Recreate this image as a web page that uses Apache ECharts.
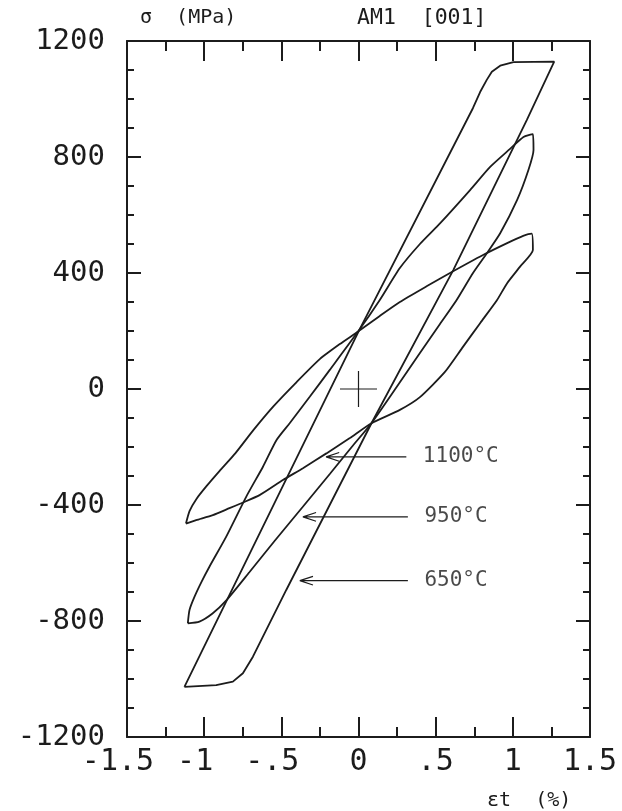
<!DOCTYPE html>
<html>
<head>
<meta charset="utf-8">
<script src="https://cdn.jsdelivr.net/npm/echarts@6/dist/echarts.min.js"></script>
<style>
html,body{margin:0;padding:0;background:#fff;}
#chart{width:622px;height:811px;}
</style>
</head>
<body>
<div id="chart"></div>
<script>
// ---- data (strain %, stress MPa) ----
const xTicks = [-1.5, -1, -0.5, 0, 0.5, 1, 1.5];
const xTickLabels = ['-1.5', '-1', '-.5', '0', '.5', '1', '1.5'];
const yTicks = [-1200, -800, -400, 0, 400, 800, 1200];
const yTickLabels = ['-1200', '-800', '-400', '0', '400', '800', '1200'];

const loop650Strain = [-1.128, 0.000, 0.742, 0.788, 0.831, 0.864, 0.918, 1.004, 1.268, 1.091, 0.614, 0.084, -0.468, -0.684, -0.749, -0.814, -0.922, -1.128];
const loop650Stress = [-1027, 198, 969, 1024, 1066, 1094, 1115, 1127, 1129, 928, 410, -118, -693, -923, -980, -1009, -1021, -1027];

const loop950Strain = [-1.106, -1.095, -1.063, -1.018, -0.966, -0.857, -0.727, -0.619, -0.531, -0.446, -0.316, -0.186, -0.003, 0.138, 0.268, 0.398, 0.528, 0.723, 0.853, 0.982, 1.069, 1.130,
  1.134, 1.101, 1.028, 0.918, 0.833, 0.742, 0.636, 0.528, 0.398, 0.236, 0.084, -0.044, -0.186, -0.362, -0.544, -0.706, -0.855, -0.946, -1.031, -1.106];
const loop950Stress = [-808, -762, -717, -666, -613, -509, -371, -268, -176, -118, -27, 66, 198, 307, 417, 500, 571, 686, 766, 828, 869, 879,
  824, 755, 652, 537, 469, 400, 307, 224, 124, -2, -118, -200, -293, -407, -524, -631, -728, -774, -802, -808];

const loop1100Strain = [-1.118, -1.095, -1.050, -0.985, -0.901, -0.797, -0.680, -0.550, -0.401, -0.251, -0.121, -0.003, 0.138, 0.268, 0.444, 0.593, 0.807, 0.963, 1.067, 1.122,
  1.130, 1.047, 0.963, 0.898, 0.788, 0.671, 0.560, 0.398, 0.268, 0.084, -0.056, -0.208, -0.360, -0.490, -0.641, -0.760, -0.836, -0.944, -1.052, -1.118];
const loop1100Stress = [-464, -421, -379, -335, -283, -221, -141, -59, 24, 103, 155, 198, 252, 300, 355, 400, 462, 503, 528, 536,
  479, 422, 365, 307, 227, 141, 59, -28, -72, -118, -169, -222, -273, -314, -366, -394, -411, -435, -452, -464];

// annotation arrows
const arrowLabels = ['1100°C', '950°C', '650°C'];
const arrowStress = [-234, -441, -661];
const arrowTipStrain = [-0.21, -0.36, -0.38];
const arrowTailStrain = [0.31, 0.32, 0.32];

// origin cross
const crossHalfStrain = 0.12;
const crossHalfStress = 62;

// ---- build ----
const INK = '#1c1c1c';
const MONO = '"DejaVu Sans Mono", "Liberation Mono", monospace';
function pairs(xs, ys) { return xs.map((x, i) => [x, ys[i]]); }
function lineSeries(data, width, smooth) {
  return {
    type: 'line', data: data, showSymbol: false, symbol: 'none', smooth: smooth || false,
    lineStyle: { color: INK, width: width }, silent: true, animation: false, z: 3
  };
}
function lookup(ticks, labels, v) {
  const i = ticks.findIndex(t => Math.abs(t - v) < 1e-9);
  return i >= 0 ? labels[i] : '';
}

const series = [
  lineSeries(pairs(loop650Strain, loop650Stress), 1.8, false),
  lineSeries(pairs(loop950Strain, loop950Stress), 1.8, 0.2),
  lineSeries(pairs(loop1100Strain, loop1100Stress), 1.8, 0.2),
  lineSeries([[-crossHalfStrain, 0], [crossHalfStrain, 0]], 1.2, false),
  lineSeries([[0, -crossHalfStress], [0, crossHalfStress]], 1.2, false)
];
const headLen = 0.085, headHalf = 15;
arrowLabels.forEach((lab, i) => {
  const y = arrowStress[i], tip = arrowTipStrain[i];
  series.push(lineSeries([
    [arrowTailStrain[i], y], [tip, y], [tip + headLen, y + headHalf], [tip, y], [tip + headLen, y - headHalf]
  ], 1.2, false));
});
series.push({
  type: 'scatter', symbolSize: 1, itemStyle: { color: 'rgba(0,0,0,0)' }, silent: true, animation: false,
  data: arrowLabels.map((lab, i) => ({ value: [arrowTailStrain[i], arrowStress[i]], name: lab })),
  label: {
    show: true, position: 'right', distance: 16, formatter: p => p.name,
    fontFamily: MONO, fontSize: 21, color: INK
  }
});

const axisLineStyle = { show: true, onZero: false, lineStyle: { color: INK, width: 2 } };
const xBase = {
  type: 'value', min: -1.5, max: 1.5, interval: 0.5,
  axisLine: axisLineStyle,
  axisTick: { show: true, inside: true, length: 20, lineStyle: { color: INK, width: 2 } },
  minorTick: { show: true, splitNumber: 2, length: 10, lineStyle: { color: INK, width: 2 } },
  splitLine: { show: false }, minorSplitLine: { show: false }
};
const yBase = {
  type: 'value', min: -1200, max: 1200, interval: 400,
  axisLine: axisLineStyle,
  axisTick: { show: true, inside: true, length: 14, lineStyle: { color: INK, width: 2 } },
  minorTick: { show: true, splitNumber: 4, length: 7, lineStyle: { color: INK, width: 2 } },
  splitLine: { show: false }, minorSplitLine: { show: false }
};

const option = {
  backgroundColor: '#fff',
  animation: false,
  grid: { left: 127, top: 41, right: 32, bottom: 74, containLabel: false },
  xAxis: [
    Object.assign({}, xBase, {
      position: 'bottom',
      axisLabel: { show: true, margin: 10, fontFamily: MONO, fontSize: 30, color: INK,
        // sign hangs to the left of the centred number
        formatter: v => { const s = lookup(xTicks, xTickLabels, v); return s.charAt(0) === '-' ? s + ' ' : s; } }
    }),
    Object.assign({}, xBase, { position: 'top', axisLabel: { show: false } })
  ],
  yAxis: [
    Object.assign({}, yBase, {
      position: 'left',
      axisLabel: { show: true, margin: 22, fontFamily: MONO, fontSize: 29, color: INK,
        formatter: v => lookup(yTicks, yTickLabels, v) }
    }),
    Object.assign({}, yBase, { position: 'right', axisLabel: { show: false } })
  ],
  graphic: [
    { type: 'text', left: 140, top: 8, style: { text: 'σ  (MPa)', font: '20px ' + MONO, fill: INK } },
    { type: 'text', left: 357, top: 7, style: { text: 'AM1  [001]', font: '21.5px ' + MONO, fill: INK } },
    { type: 'text', left: 487, top: 791, style: { text: 'εt  (%)', font: '20px ' + MONO, fill: INK } }
  ],
  series: series
};

const chart = echarts.init(document.getElementById('chart'), null, { renderer: 'canvas' });
chart.setOption(option);
</script>
</body>
</html>
